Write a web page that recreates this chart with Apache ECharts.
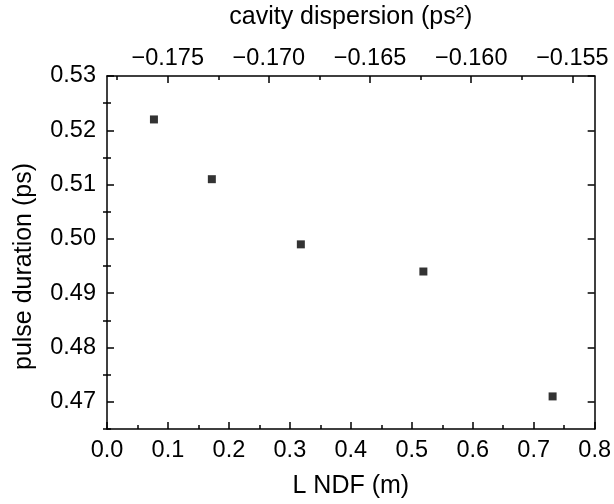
<!DOCTYPE html>
<html>
<head>
<meta charset="utf-8">
<script src="https://cdn.jsdelivr.net/npm/echarts@6/dist/echarts.min.js"></script>
<style>html,body{margin:0;padding:0;background:#fff}#c{width:614px;height:504px}</style>
</head>
<body>
<div id="c"></div>
<script>
var lengthNDF = [0.077, 0.172, 0.318, 0.519, 0.731];
var pulseDuration = [0.522, 0.511, 0.499, 0.494, 0.471];
var bottomTicks = [0.0, 0.1, 0.2, 0.3, 0.4, 0.5, 0.6, 0.7, 0.8];
var bottomMinor = [0.05, 0.15, 0.25, 0.35, 0.45, 0.55, 0.65, 0.75];
var topTicks = [-0.175, -0.170, -0.165, -0.160, -0.155];
var topMinor = [-0.1775, -0.1725, -0.1675, -0.1625, -0.1575];
var yTicks = [0.47, 0.48, 0.49, 0.50, 0.51, 0.52, 0.53];
var yMinor = [0.465, 0.475, 0.485, 0.495, 0.505, 0.515, 0.525];

var FONT = 'Liberation Sans, Arial, sans-serif';
var lineStyle = {color: '#000', width: 1.5};
function axisBase(extra) {
  var a = {
    type: 'value',
    splitLine: {show: false},
    axisLine: {show: true, onZero: false, lineStyle: lineStyle},
    axisTick: {show: true, inside: true, length: 7, lineStyle: lineStyle},
    axisLabel: {show: false}
  };
  for (var k in extra) a[k] = extra[k];
  return a;
}
var labelStyle = {color: '#000', fontSize: 23.5, fontFamily: FONT};
var nameStyle = {color: '#000', fontSize: 25, fontFamily: FONT};

var chart = echarts.init(document.getElementById('c'));
chart.setOption({
  animation: false,
  grid: {left: 107, right: 19, top: 72, bottom: 74, containLabel: false},
  xAxis: [
    axisBase({position: 'bottom', min: 0, max: 0.8,
      axisTick: {show: true, inside: true, length: 7, lineStyle: lineStyle, customValues: bottomTicks},
      axisLabel: Object.assign({show: true, margin: 10, customValues: bottomTicks,
        formatter: function (v) { return v.toFixed(1); }}, labelStyle),
      name: 'L NDF (m)', nameLocation: 'middle', nameGap: 45,
      nameTextStyle: nameStyle
    }),
    axisBase({position: 'bottom', min: 0, max: 0.8,
      axisLine: {show: false},
      axisTick: {show: true, inside: true, length: 4, lineStyle: lineStyle, customValues: bottomMinor}
    }),
    axisBase({position: 'top', min: -0.178, max: -0.1539,
      axisTick: {show: true, inside: true, length: 7, lineStyle: lineStyle, customValues: topTicks},
      axisLabel: Object.assign({show: true, margin: 5, customValues: topTicks,
        formatter: function (v) { return v.toFixed(3).replace('-', '\u2212'); }}, labelStyle),
      name: 'cavity dispersion (ps\u00b2)', nameLocation: 'middle', nameGap: 46,
      nameTextStyle: nameStyle
    }),
    axisBase({position: 'top', min: -0.178, max: -0.1539,
      axisLine: {show: false},
      axisTick: {show: true, inside: true, length: 4, lineStyle: lineStyle, customValues: topMinor}
    })
  ],
  yAxis: [
    axisBase({position: 'left', min: 0.465, max: 0.53,
      axisTick: {show: true, inside: true, length: 7, lineStyle: lineStyle, customValues: yTicks},
      axisLabel: Object.assign({show: true, margin: 11, customValues: yTicks,
        formatter: function (v) { return v.toFixed(2); }}, labelStyle),
      name: 'pulse duration (ps)', nameLocation: 'middle', nameGap: 70,
      nameTextStyle: Object.assign({padding: [0, 28, 0, 0]}, nameStyle)
    }),
    axisBase({position: 'left', min: 0.465, max: 0.53,
      axisLine: {show: false},
      axisTick: {show: true, inside: true, length: 4, lineStyle: lineStyle, customValues: yMinor}
    }),
    axisBase({position: 'right', min: 0.465, max: 0.53,
      axisTick: {show: true, inside: true, length: 7, lineStyle: lineStyle, customValues: yTicks}
    }),
    axisBase({position: 'right', min: 0.465, max: 0.53,
      axisLine: {show: false},
      axisTick: {show: true, inside: true, length: 4, lineStyle: lineStyle, customValues: yMinor}
    })
  ],
  series: [{
    type: 'scatter',
    xAxisIndex: 0, yAxisIndex: 0,
    symbol: 'rect', symbolSize: 8,
    itemStyle: {color: '#000'},
    data: lengthNDF.map(function (x, i) { return [x, pulseDuration[i]]; })
  }]
});
</script>
</body>
</html>
